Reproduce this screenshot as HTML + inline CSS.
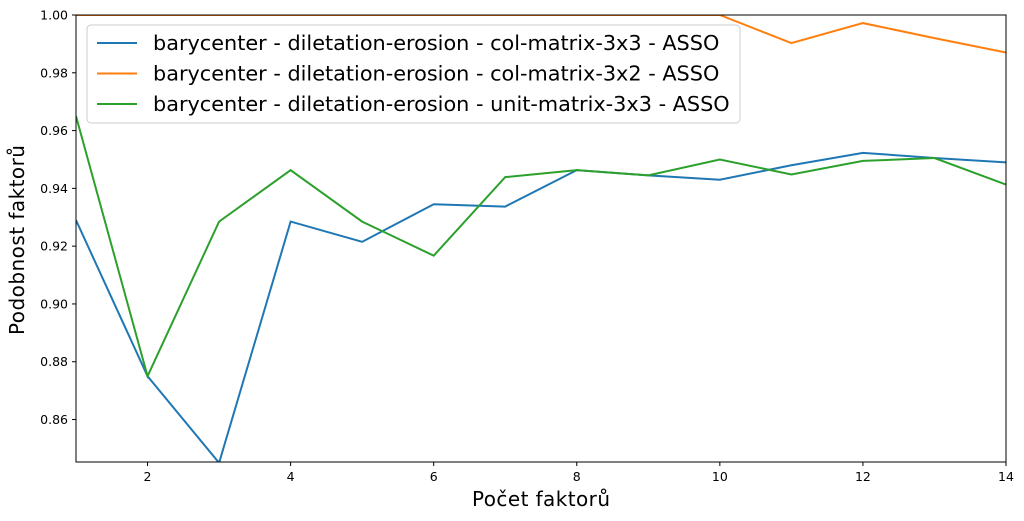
<!DOCTYPE html>
<html><head><meta charset="utf-8"><style>
body{margin:0;background:#fff;}
svg{display:block;font-family:"DejaVu Sans","Liberation Sans",sans-serif;}
</style></head><body>
<svg id="chart" width="1024" height="521">
<defs><clipPath id="clip"><rect x="76" y="15" width="930" height="447"/></clipPath></defs>
<rect x="0" y="0" width="1024" height="521" fill="#fff"/>
<g id="series" clip-path="url(#clip)"></g>
<rect x="76" y="15" width="930" height="447" fill="none" stroke="#000" stroke-width="1"/>
<g id="ticks"></g>
<text x="541" y="506" font-size="20" text-anchor="middle" textLength="138">Počet faktorů</text>
<text transform="translate(24,240) rotate(-90)" font-size="20" text-anchor="middle" textLength="190">Podobnost faktorů</text>
<g id="legend"></g>
</svg>
<script>
const xValues=[1,2,3,4,5,6,7,8,9,10,11,12,13,14];
const seriesNames=["barycenter - diletation-erosion - col-matrix-3x3 - ASSO","barycenter - diletation-erosion - col-matrix-3x2 - ASSO","barycenter - diletation-erosion - unit-matrix-3x3 - ASSO"];
const blueValues=[0.929,0.875,0.845,0.9285,0.9215,0.9345,0.9337,0.9463,0.9445,0.943,0.948,0.9523,0.9505,0.949];
const orangeValues=[1.0,1.0,1.0,1.0,1.0,1.0,1.0,1.0,1.0,1.0,0.9903,0.9972,0.992,0.987];
const greenValues=[0.965,0.875,0.9285,0.9463,0.9285,0.9167,0.9439,0.9463,0.9445,0.95,0.9448,0.9495,0.9505,0.9413];
const xTicks=[2,4,6,8,10,12,14];
const yTicks=[0.86,0.88,0.90,0.92,0.94,0.96,0.98,1.00];
const colors=["#1f77b4","#ff7f0e","#2ca02c"];
const X0=76,X1=1006,Y0=462,Y1=15,xmin=1,xmax=14,ymin=0.8453,ymax=1.0;
const xs=v=>X0+(v-xmin)/(xmax-xmin)*(X1-X0);
const ys=v=>Y0-(v-ymin)/(ymax-ymin)*(Y0-Y1);
const NS="http://www.w3.org/2000/svg";
function mk(t,a,p){const e=document.createElementNS(NS,t);for(const k in a)e.setAttribute(k,a[k]);p.appendChild(e);return e;}
const ticks=document.getElementById('ticks');
xTicks.forEach(v=>{
 const l=mk('line',{x1:xs(v),x2:xs(v),y1:Y0,y2:Y0+4,stroke:'#000'},ticks);
 
 
 const t=mk('text',{x:xs(v),y:Y0+19,'font-size':12.5,'text-anchor':'middle'},ticks);t.textContent=v;
 
 
});
yTicks.forEach(v=>{
 const l=mk('line',{x1:X0-4,x2:X0,y1:ys(v),y2:ys(v),stroke:'#000'},ticks);
 
 
 const t=mk('text',{x:X0-8,y:ys(v)+4.5,'font-size':12.5,'text-anchor':'end'},ticks);t.textContent=v.toFixed(2);
 
 
});
const sg=document.getElementById('series');
[blueValues,orangeValues,greenValues].forEach((arr,i)=>{
 const p=mk('polyline',{points:arr.map((v,j)=>xs(xValues[j])+','+ys(v)).join(' '),fill:'none',stroke:colors[i],'stroke-width':2},sg);
 
 
});
const lg=document.getElementById('legend');
const box=mk('rect',{x:87,y:25,width:653,height:98,rx:4,fill:'#fff','fill-opacity':0.8,stroke:'#ccc'},lg);


seriesNames.forEach((n,i)=>{
 const y=43+i*30.5;
 const l=mk('line',{x1:97,x2:137,y1:y,y2:y,stroke:colors[i],'stroke-width':2},lg);
 
 
 const t=mk('text',{x:153,y:y+7,'font-size':20.8},lg);t.textContent=n;
 
 
});
</script>
</body></html>
